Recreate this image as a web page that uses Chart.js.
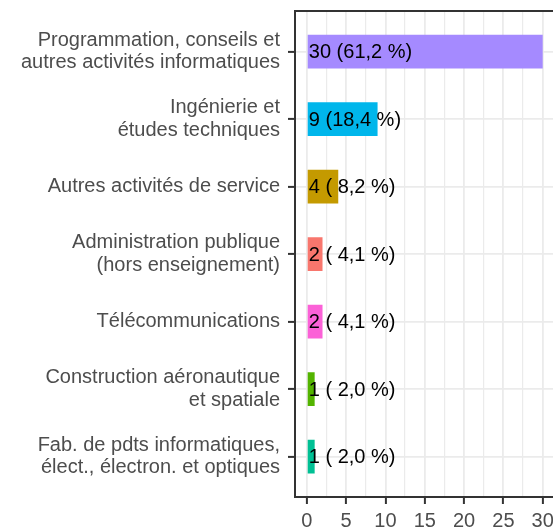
<!DOCTYPE html>
<html>
<head>
<meta charset="utf-8">
<script src="https://cdn.jsdelivr.net/npm/chart.js@4.4.1/dist/chart.umd.min.js"></script>
<style>
  html, body { margin: 0; padding: 0; background: #fff; overflow: hidden; }
  #wrap { width: 553px; height: 530px; overflow: hidden; }
</style>
</head>
<body>
<div id="wrap"><canvas id="chart" width="560" height="530"></canvas></div>
<script>
// sectors, top to bottom
const sectors = [
    ['Programmation, conseils et', 'autres activités informatiques'],
    ['Ingénierie et', 'études techniques'],
    'Autres activités de service',
    ['Administration publique', '(hors enseignement)'],
    'Télécommunications',
    ['Construction aéronautique', 'et spatiale'],
    ['Fab. de pdts informatiques,', 'élect., électron. et optiques']
];
const counts = [30, 9, 4, 2, 2, 1, 1];
const percents = [61.2, 18.4, 8.2, 4.1, 4.1, 2.0, 2.0];
const barColors = ['#A58AFF', '#00B6EB', '#C49A00', '#F8766D', '#FB61D7', '#53B400', '#00C094'];
const xTicks = [0, 2.5, 5, 7.5, 10, 12.5, 15, 17.5, 20, 22.5, 25, 27.5, 30];

const font = '"Liberation Sans", Arial, sans-serif';

// "9 (18,4 %)" / "2 ( 4,1 %)"
function barLabel(i) {
    let p = percents[i].toFixed(1).replace('.', ',');
    if (percents[i] < 10) p = ' ' + p;
    return counts[i] + ' (' + p + ' %)';
}

// panel border + value labels
const extras = {
    id: 'extras',
    afterDatasetsDraw(chart) {
        const ctx = chart.ctx;
        const x0 = chart.scales.x.getPixelForValue(0);
        ctx.save();
        ctx.font = '20px ' + font;
        ctx.fillStyle = '#000';
        ctx.textAlign = 'left';
        ctx.textBaseline = 'middle';
        chart.getDatasetMeta(0).data.forEach((bar, i) => {
            ctx.fillText(barLabel(i), x0 + 2, bar.y + 1);
        });
        ctx.restore();
    },
    afterDraw(chart) {
        const a = chart.chartArea;
        const ctx = chart.ctx;
        ctx.save();
        ctx.strokeStyle = '#333333';
        ctx.lineWidth = 2;
        ctx.strokeRect(a.left, a.top, a.right - a.left, a.bottom - a.top);
        ctx.restore();
    }
};

new Chart(document.getElementById('chart'), {
    type: 'bar',
    data: {
        datasets: [{
            data: counts.map((c, i) => ({ x: c, y: i })),
            backgroundColor: barColors,
            barPercentage: 0.5,
            categoryPercentage: 1.0
        }]
    },
    options: {
        indexAxis: 'y',
        responsive: false,
        animation: false,
        devicePixelRatio: 1,
        layout: { padding: { top: 11, right: 5.5, left: 0, bottom: 0 } },
        plugins: { legend: { display: false }, tooltip: { enabled: false } },
        scales: {
            x: {
                type: 'linear',
                min: -1.5,
                max: 31.5,
                offset: false,
                afterBuildTicks: s => { s.ticks = xTicks.map(v => ({ value: v })); },
                afterFit: s => { s.height = 33; s.paddingLeft = 0; s.paddingRight = 0; },
                border: { display: false },
                grid: {
                    offset: false,
                    color: '#EBEBEB',
                    lineWidth: c => (c.tick && c.tick.value % 5 === 0) ? 1.8 : 1.2,
                    tickLength: 7,
                    tickColor: c => (c.tick && c.tick.value % 5 === 0) ? '#333333' : 'rgba(0,0,0,0)',
                    tickWidth: 2
                },
                ticks: {
                    autoSkip: false,
                    maxRotation: 0,
                    padding: 5,
                    color: '#4D4D4D',
                    font: { family: font, size: 20 },
                    callback: v => v % 5 === 0 ? String(v) : ''
                }
            },
            y: {
                type: 'linear',
                reverse: true,
                min: -0.6,
                max: 6.6,
                offset: false,
                afterBuildTicks: s => { s.ticks = sectors.map((_, i) => ({ value: i })); },
                afterFit: s => { s.width = 295; s.paddingTop = 0; s.paddingBottom = 0; },
                border: { display: false },
                grid: {
                    offset: false,
                    color: '#EBEBEB',
                    lineWidth: 1.8,
                    tickLength: 7,
                    tickColor: '#333333',
                    tickWidth: 2
                },
                ticks: {
                    autoSkip: false,
                    padding: 8,
                    color: '#4D4D4D',
                    font: { family: font, size: 20, lineHeight: 1.12 },
                    callback: v => sectors[v]
                }
            }
        }
    },
    plugins: [extras]
});
</script>
</body>
</html>
